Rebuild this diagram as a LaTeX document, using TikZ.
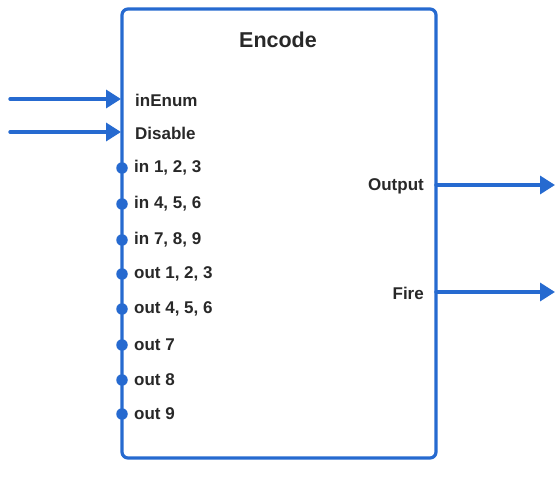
\documentclass[tikz,border=0pt]{standalone}
\usepackage{fontspec}
\setmainfont{Liberation Sans}
\usetikzlibrary{arrows.meta}
\definecolor{encblue}{RGB}{38,106,208}
\definecolor{enctext}{RGB}{40,40,40}
\tikzset{
  encbox/.style={draw=encblue,line width=3.2pt,rounded corners=6pt,minimum width=314pt,minimum height=449pt,inner sep=0pt},
  wire/.style={-{Triangle[length=15pt,width=18pt]},encblue,line width=3.4pt},
  portdot/.style={circle,fill=encblue,inner sep=0pt,minimum size=11.5pt},
  portlbl/.style={font=\fontsize{17}{19}\selectfont\bfseries,text=enctext,inner sep=0pt},
}
\begin{document}
\begin{tikzpicture}[x=1pt,y=-1pt,line cap=round,line join=round]
\useasboundingbox (0,0) rectangle (555,487);
\node[encbox] (enc) at (279,233.5) {};
\node[font=\fontsize{21.5}{24}\selectfont\bfseries,text=enctext] (title) at (278,40) {Encode};
% inputs
\coordinate (srcA) at (10,99);
\coordinate (srcB) at (10,132);
\coordinate (pA) at (121,99);
\coordinate (pB) at (121,132);
\draw[wire] (srcA) -- (pA);
\draw[wire] (srcB) -- (pB);
\node[portlbl,anchor=west] (lA) at (135,100) {inEnum};
\node[portlbl,anchor=west] (lB) at (135,133) {Disable};
% connection dots
\node[portdot] (d1) at (122,168) {};
\node[portdot] (d2) at (122,204) {};
\node[portdot] (d3) at (122,240) {};
\node[portdot] (d4) at (122,274) {};
\node[portdot] (d5) at (122,309) {};
\node[portdot] (d6) at (122,345) {};
\node[portdot] (d7) at (122,380) {};
\node[portdot] (d8) at (122,414) {};
\node[portlbl,anchor=west] (l1) at (134,168) {in 1, 2, 3};
\node[portlbl,anchor=west] (l2) at (134,204) {in 4, 5, 6};
\node[portlbl,anchor=west] (l3) at (134,240) {in 7, 8, 9};
\node[portlbl,anchor=west] (l4) at (134,274) {out 1, 2, 3};
\node[portlbl,anchor=west] (l5) at (134,309) {out 4, 5, 6};
\node[portlbl,anchor=west] (l6) at (134,345) {out 7};
\node[portlbl,anchor=west] (l7) at (134,380) {out 8};
\node[portlbl,anchor=west] (l8) at (134,414) {out 9};
% outputs
\coordinate (pOut) at (436,185);
\coordinate (pFire) at (436,292);
\coordinate (dstOut) at (555,185);
\coordinate (dstFire) at (555,292);
\draw[wire] (pOut) -- (dstOut);
\draw[wire] (pFire) -- (dstFire);
\node[portlbl,anchor=east] (lOut) at (424,186) {Output};
\node[portlbl,anchor=east] (lFire) at (424,293) {Fire};
\end{tikzpicture}
\end{document}
